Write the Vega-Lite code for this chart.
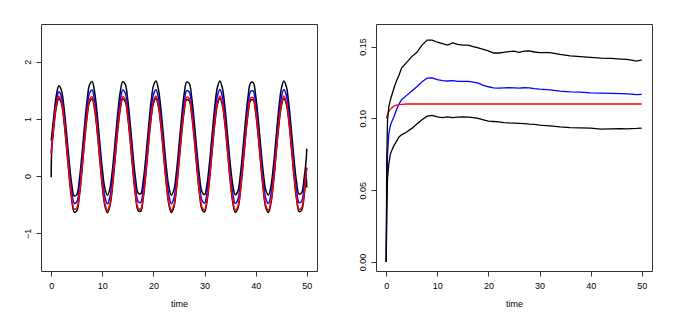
{
"$schema": "https://vega.github.io/schema/vega-lite/v6.json",
"padding": {"left": 22, "top": 23, "right": 5, "bottom": 5},
"background": "white",
"bounds": "flush",
"spacing": 59,
"config": {
 "view": {"stroke": "#333", "strokeWidth": 1},
 "axis": {"domain": false, "grid": false, "ticks": true, "tickColor": "#333", "tickSize": 5, "labelFont": "Liberation Sans", "labelFontSize": 9, "labelColor": "#000", "titleFont": "Liberation Sans", "titleFontSize": 9, "titleFontWeight": "normal", "titleColor": "#000"},
 "axisX": {"labelPadding": 5, "titlePadding": 9, "labelAngle": 0},
 "axisY": {"labelAngle": -90, "labelPadding": 4, "labelAlign": "center", "labelBaseline": "bottom"}
},
"datasets": {
 "a": [
{"t":0,"s":"hi","v":0.62},{"t":0.5,"s":"hi","v":1.039},{"t":1,"s":"hi","v":1.412},{"t":1.5,"s":"hi","v":1.578},{"t":2,"s":"hi","v":1.499},{"t":2.5,"s":"hi","v":1.199},{"t":3,"s":"hi","v":0.751},{"t":3.5,"s":"hi","v":0.269},{"t":4,"s":"hi","v":-0.132},{"t":4.5,"s":"hi","v":-0.348},{"t":5,"s":"hi","v":-0.324},{"t":5.5,"s":"hi","v":-0.066},{"t":6,"s":"hi","v":0.366},{"t":6.5,"s":"hi","v":0.865},{"t":7,"s":"hi","v":1.312},{"t":7.5,"s":"hi","v":1.598},
{"t":8,"s":"hi","v":1.654},{"t":8.5,"s":"hi","v":1.464},{"t":9,"s":"hi","v":1.077},{"t":9.5,"s":"hi","v":0.590},{"t":10,"s":"hi","v":0.121},{"t":10.5,"s":"hi","v":-0.215},{"t":11,"s":"hi","v":-0.335},{"t":11.5,"s":"hi","v":-0.211},{"t":12,"s":"hi","v":0.128},{"t":12.5,"s":"hi","v":0.599},{"t":13,"s":"hi","v":1.085},{"t":13.5,"s":"hi","v":1.469},{"t":14,"s":"hi","v":1.656},{"t":14.5,"s":"hi","v":1.600},{"t":15,"s":"hi","v":1.315},{"t":15.5,"s":"hi","v":0.872},{"t":16,"s":"hi","v":0.377},{"t":16.5,"s":"hi","v":-0.047},{"t":17,"s":"hi","v":-0.296},{"t":17.5,"s":"hi","v":-0.311},{"t":18,"s":"hi","v":-0.086},{"t":18.5,"s":"hi","v":0.323},{"t":19,"s":"hi","v":0.815},{"t":19.5,"s":"hi","v":1.271},{"t":20,"s":"hi","v":1.578},{"t":20.5,"s":"hi","v":1.662},{"t":21,"s":"hi","v":1.502},{"t":21.5,"s":"hi","v":1.137},{"t":22,"s":"hi","v":0.656},{"t":22.5,"s":"hi","v":0.178},{"t":23,"s":"hi","v":-0.181},{"t":23.5,"s":"hi","v":-0.333},{"t":24,"s":"hi","v":-0.241},{"t":24.5,"s":"hi","v":0.074},{"t":25,"s":"hi","v":0.533},{"t":25.5,"s":"hi","v":1.024},{"t":26,"s":"hi","v":1.428},{"t":26.5,"s":"hi","v":1.644},{"t":27,"s":"hi","v":1.621},{"t":27.5,"s":"hi","v":1.364},{"t":28,"s":"hi","v":0.936},{"t":28.5,"s":"hi","v":0.441},{"t":29,"s":"hi","v":0.001},{"t":29.5,"s":"hi","v":-0.276},{"t":30,"s":"hi","v":-0.323},{"t":30.5,"s":"hi","v":-0.128},{"t":31,"s":"hi","v":0.261},{"t":31.5,"s":"hi","v":0.749},{"t":32,"s":"hi","v":1.216},{"t":32.5,"s":"hi","v":1.549},{"t":33,"s":"hi","v":1.665},{"t":33.5,"s":"hi","v":1.536},{"t":34,"s":"hi","v":1.194},{"t":34.5,"s":"hi","v":0.723},{"t":35,"s":"hi","v":0.237},{"t":35.5,"s":"hi","v":-0.144},{"t":36,"s":"hi","v":-0.327},{"t":36.5,"s":"hi","v":-0.267},{"t":37,"s":"hi","v":0.022},{"t":37.5,"s":"hi","v":0.467},{"t":38,"s":"hi","v":0.961},{"t":38.5,"s":"hi","v":1.383},{"t":39,"s":"hi","v":1.629},{"t":39.5,"s":"hi","v":1.639},{"t":40,"s":"hi","v":1.410},{"t":40.5,"s":"hi","v":0.999},{"t":41,"s":"hi","v":0.506},{"t":41.5,"s":"hi","v":0.053},{"t":42,"s":"hi","v":-0.252},{"t":42.5,"s":"hi","v":-0.331},{"t":43,"s":"hi","v":-0.167},{"t":43.5,"s":"hi","v":0.201},{"t":44,"s":"hi","v":0.683},{"t":44.5,"s":"hi","v":1.160},{"t":45,"s":"hi","v":1.516},{"t":45.5,"s":"hi","v":1.664},{"t":46,"s":"hi","v":1.567},{"t":46.5,"s":"hi","v":1.249},{"t":47,"s":"hi","v":0.789},{"t":47.5,"s":"hi","v":0.298},{"t":48,"s":"hi","v":-0.103},{"t":48.5,"s":"hi","v":-0.316},{"t":49,"s":"hi","v":-0.289},{"t":49.5,"s":"hi","v":-0.028},{"t":49.9,"s":"hi","v":0.308},{"t":50,"s":"hi","v":0.48},
{"t":0,"s":"lo","v":-0.02},{"t":0.1,"s":"lo","v":0.46},{"t":0.5,"s":"lo","v":0.849},{"t":1,"s":"lo","v":1.202},{"t":1.5,"s":"lo","v":1.358},{"t":2,"s":"lo","v":1.269},{"t":2.5,"s":"lo","v":0.954},{"t":3,"s":"lo","v":0.491},{"t":3.5,"s":"lo","v":-0.001},{"t":4,"s":"lo","v":-0.407},{"t":4.5,"s":"lo","v":-0.628},{"t":5,"s":"lo","v":-0.609},{"t":5.5,"s":"lo","v":-0.356},{"t":6,"s":"lo","v":0.076},{"t":6.5,"s":"lo","v":0.575},{"t":7,"s":"lo","v":1.017},{"t":7.5,"s":"lo","v":1.298},{"t":8,"s":"lo","v":1.349},{"t":8.5,"s":"lo","v":1.159},{"t":9,"s":"lo","v":0.772},{"t":9.5,"s":"lo","v":0.285},{"t":10,"s":"lo","v":-0.184},{"t":10.5,"s":"lo","v":-0.520},{"t":11,"s":"lo","v":-0.640},{"t":11.5,"s":"lo","v":-0.516},{"t":12,"s":"lo","v":-0.177},{"t":12.5,"s":"lo","v":0.294},{"t":13,"s":"lo","v":0.780},{"t":13.5,"s":"lo","v":1.164},{"t":14,"s":"lo","v":1.351},{"t":14.5,"s":"lo","v":1.295},{"t":15,"s":"lo","v":1.010},{"t":15.5,"s":"lo","v":0.567},{"t":16,"s":"lo","v":0.072},{"t":16.5,"s":"lo","v":-0.352},{"t":17,"s":"lo","v":-0.601},{"t":17.5,"s":"lo","v":-0.616},{"t":18,"s":"lo","v":-0.391},{"t":18.5,"s":"lo","v":0.018},{"t":19,"s":"lo","v":0.510},{"t":19.5,"s":"lo","v":0.966},{"t":20,"s":"lo","v":1.273},{"t":20.5,"s":"lo","v":1.357},{"t":21,"s":"lo","v":1.197},{"t":21.5,"s":"lo","v":0.832},{"t":22,"s":"lo","v":0.351},{"t":22.5,"s":"lo","v":-0.127},{"t":23,"s":"lo","v":-0.486},{"t":23.5,"s":"lo","v":-0.638},{"t":24,"s":"lo","v":-0.546},{"t":24.5,"s":"lo","v":-0.231},{"t":25,"s":"lo","v":0.228},{"t":25.5,"s":"lo","v":0.719},{"t":26,"s":"lo","v":1.123},{"t":26.5,"s":"lo","v":1.339},{"t":27,"s":"lo","v":1.316},{"t":27.5,"s":"lo","v":1.059},{"t":28,"s":"lo","v":0.631},{"t":28.5,"s":"lo","v":0.136},{"t":29,"s":"lo","v":-0.304},{"t":29.5,"s":"lo","v":-0.581},{"t":30,"s":"lo","v":-0.628},{"t":30.5,"s":"lo","v":-0.433},{"t":31,"s":"lo","v":-0.044},{"t":31.5,"s":"lo","v":0.444},{"t":32,"s":"lo","v":0.911},{"t":32.5,"s":"lo","v":1.244},{"t":33,"s":"lo","v":1.360},{"t":33.5,"s":"lo","v":1.231},{"t":34,"s":"lo","v":0.889},{"t":34.5,"s":"lo","v":0.418},{"t":35,"s":"lo","v":-0.068},{"t":35.5,"s":"lo","v":-0.449},{"t":36,"s":"lo","v":-0.632},{"t":36.5,"s":"lo","v":-0.572},{"t":37,"s":"lo","v":-0.284},{"t":37.5,"s":"lo","v":0.162},{"t":38,"s":"lo","v":0.656},{"t":38.5,"s":"lo","v":1.078},{"t":39,"s":"lo","v":1.324},{"t":39.5,"s":"lo","v":1.334},{"t":40,"s":"lo","v":1.105},{"t":40.5,"s":"lo","v":0.694},{"t":41,"s":"lo","v":0.201},{"t":41.5,"s":"lo","v":-0.253},{"t":42,"s":"lo","v":-0.557},{"t":42.5,"s":"lo","v":-0.636},{"t":43,"s":"lo","v":-0.472},{"t":43.5,"s":"lo","v":-0.104},{"t":44,"s":"lo","v":0.378},{"t":44.5,"s":"lo","v":0.855},{"t":45,"s":"lo","v":1.211},{"t":45.5,"s":"lo","v":1.359},{"t":46,"s":"lo","v":1.262},{"t":46.5,"s":"lo","v":0.944},{"t":47,"s":"lo","v":0.484},{"t":47.5,"s":"lo","v":-0.007},{"t":48,"s":"lo","v":-0.408},{"t":48.5,"s":"lo","v":-0.621},{"t":49,"s":"lo","v":-0.594},{"t":49.5,"s":"lo","v":-0.333},{"t":49.9,"s":"lo","v":0.003},{"t":50,"s":"lo","v":-0.20},
{"t":0,"s":"bl","v":0.400},{"t":0.5,"s":"bl","v":0.919},{"t":1,"s":"bl","v":1.302},{"t":1.5,"s":"bl","v":1.473},{"t":2,"s":"bl","v":1.394},{"t":2.5,"s":"bl","v":1.089},{"t":3,"s":"bl","v":0.636},{"t":3.5,"s":"bl","v":0.147},{"t":4,"s":"bl","v":-0.257},{"t":4.5,"s":"bl","v":-0.475},{"t":5,"s":"bl","v":-0.454},{"t":5.5,"s":"bl","v":-0.199},{"t":6,"s":"bl","v":0.231},{"t":6.5,"s":"bl","v":0.727},{"t":7,"s":"bl","v":1.172},{"t":7.5,"s":"bl","v":1.453},{"t":8,"s":"bl","v":1.504},{"t":8.5,"s":"bl","v":1.314},{"t":9,"s":"bl","v":0.927},{"t":9.5,"s":"bl","v":0.440},{"t":10,"s":"bl","v":-0.029},{"t":10.5,"s":"bl","v":-0.365},{"t":11,"s":"bl","v":-0.485},{"t":11.5,"s":"bl","v":-0.361},{"t":12,"s":"bl","v":-0.022},{"t":12.5,"s":"bl","v":0.449},{"t":13,"s":"bl","v":0.935},{"t":13.5,"s":"bl","v":1.319},{"t":14,"s":"bl","v":1.506},{"t":14.5,"s":"bl","v":1.450},{"t":15,"s":"bl","v":1.165},{"t":15.5,"s":"bl","v":0.722},{"t":16,"s":"bl","v":0.227},{"t":16.5,"s":"bl","v":-0.197},{"t":17,"s":"bl","v":-0.446},{"t":17.5,"s":"bl","v":-0.461},{"t":18,"s":"bl","v":-0.236},{"t":18.5,"s":"bl","v":0.173},{"t":19,"s":"bl","v":0.665},{"t":19.5,"s":"bl","v":1.121},{"t":20,"s":"bl","v":1.428},{"t":20.5,"s":"bl","v":1.512},{"t":21,"s":"bl","v":1.352},{"t":21.5,"s":"bl","v":0.987},{"t":22,"s":"bl","v":0.506},{"t":22.5,"s":"bl","v":0.028},{"t":23,"s":"bl","v":-0.331},{"t":23.5,"s":"bl","v":-0.483},{"t":24,"s":"bl","v":-0.391},{"t":24.5,"s":"bl","v":-0.076},{"t":25,"s":"bl","v":0.383},{"t":25.5,"s":"bl","v":0.874},{"t":26,"s":"bl","v":1.278},{"t":26.5,"s":"bl","v":1.494},{"t":27,"s":"bl","v":1.471},{"t":27.5,"s":"bl","v":1.214},{"t":28,"s":"bl","v":0.786},{"t":28.5,"s":"bl","v":0.291},{"t":29,"s":"bl","v":-0.149},{"t":29.5,"s":"bl","v":-0.426},{"t":30,"s":"bl","v":-0.473},{"t":30.5,"s":"bl","v":-0.278},{"t":31,"s":"bl","v":0.111},{"t":31.5,"s":"bl","v":0.599},{"t":32,"s":"bl","v":1.066},{"t":32.5,"s":"bl","v":1.399},{"t":33,"s":"bl","v":1.515},{"t":33.5,"s":"bl","v":1.386},{"t":34,"s":"bl","v":1.044},{"t":34.5,"s":"bl","v":0.573},{"t":35,"s":"bl","v":0.087},{"t":35.5,"s":"bl","v":-0.294},{"t":36,"s":"bl","v":-0.477},{"t":36.5,"s":"bl","v":-0.417},{"t":37,"s":"bl","v":-0.129},{"t":37.5,"s":"bl","v":0.317},{"t":38,"s":"bl","v":0.811},{"t":38.5,"s":"bl","v":1.233},{"t":39,"s":"bl","v":1.479},{"t":39.5,"s":"bl","v":1.489},{"t":40,"s":"bl","v":1.260},{"t":40.5,"s":"bl","v":0.849},{"t":41,"s":"bl","v":0.356},{"t":41.5,"s":"bl","v":-0.098},{"t":42,"s":"bl","v":-0.402},{"t":42.5,"s":"bl","v":-0.481},{"t":43,"s":"bl","v":-0.317},{"t":43.5,"s":"bl","v":0.051},{"t":44,"s":"bl","v":0.533},{"t":44.5,"s":"bl","v":1.010},{"t":45,"s":"bl","v":1.366},{"t":45.5,"s":"bl","v":1.514},{"t":46,"s":"bl","v":1.417},{"t":46.5,"s":"bl","v":1.099},{"t":47,"s":"bl","v":0.639},{"t":47.5,"s":"bl","v":0.148},{"t":48,"s":"bl","v":-0.253},{"t":48.5,"s":"bl","v":-0.466},{"t":49,"s":"bl","v":-0.439},{"t":49.5,"s":"bl","v":-0.178},{"t":50,"s":"bl","v":0.150},
{"t":0,"s":"rd","v":0.400},{"t":0.5,"s":"rd","v":0.879},{"t":1,"s":"rd","v":1.242},{"t":1.5,"s":"rd","v":1.398},{"t":2,"s":"rd","v":1.309},{"t":2.5,"s":"rd","v":0.999},{"t":3,"s":"rd","v":0.541},{"t":3.5,"s":"rd","v":0.049},{"t":4,"s":"rd","v":-0.357},{"t":4.5,"s":"rd","v":-0.578},{"t":5,"s":"rd","v":-0.559},{"t":5.5,"s":"rd","v":-0.306},{"t":6,"s":"rd","v":0.121},{"t":6.5,"s":"rd","v":0.615},{"t":7,"s":"rd","v":1.057},{"t":7.5,"s":"rd","v":1.338},{"t":8,"s":"rd","v":1.389},{"t":8.5,"s":"rd","v":1.199},{"t":9,"s":"rd","v":0.812},{"t":9.5,"s":"rd","v":0.325},{"t":10,"s":"rd","v":-0.144},{"t":10.5,"s":"rd","v":-0.480},{"t":11,"s":"rd","v":-0.600},{"t":11.5,"s":"rd","v":-0.476},{"t":12,"s":"rd","v":-0.137},{"t":12.5,"s":"rd","v":0.334},{"t":13,"s":"rd","v":0.820},{"t":13.5,"s":"rd","v":1.204},{"t":14,"s":"rd","v":1.391},{"t":14.5,"s":"rd","v":1.335},{"t":15,"s":"rd","v":1.050},{"t":15.5,"s":"rd","v":0.607},{"t":16,"s":"rd","v":0.112},{"t":16.5,"s":"rd","v":-0.312},{"t":17,"s":"rd","v":-0.561},{"t":17.5,"s":"rd","v":-0.576},{"t":18,"s":"rd","v":-0.351},{"t":18.5,"s":"rd","v":0.058},{"t":19,"s":"rd","v":0.550},{"t":19.5,"s":"rd","v":1.006},{"t":20,"s":"rd","v":1.313},{"t":20.5,"s":"rd","v":1.397},{"t":21,"s":"rd","v":1.237},{"t":21.5,"s":"rd","v":0.872},{"t":22,"s":"rd","v":0.391},{"t":22.5,"s":"rd","v":-0.087},{"t":23,"s":"rd","v":-0.446},{"t":23.5,"s":"rd","v":-0.598},{"t":24,"s":"rd","v":-0.506},{"t":24.5,"s":"rd","v":-0.191},{"t":25,"s":"rd","v":0.268},{"t":25.5,"s":"rd","v":0.759},{"t":26,"s":"rd","v":1.163},{"t":26.5,"s":"rd","v":1.379},{"t":27,"s":"rd","v":1.356},{"t":27.5,"s":"rd","v":1.099},{"t":28,"s":"rd","v":0.671},{"t":28.5,"s":"rd","v":0.176},{"t":29,"s":"rd","v":-0.264},{"t":29.5,"s":"rd","v":-0.541},{"t":30,"s":"rd","v":-0.588},{"t":30.5,"s":"rd","v":-0.393},{"t":31,"s":"rd","v":-0.004},{"t":31.5,"s":"rd","v":0.484},{"t":32,"s":"rd","v":0.951},{"t":32.5,"s":"rd","v":1.284},{"t":33,"s":"rd","v":1.400},{"t":33.5,"s":"rd","v":1.271},{"t":34,"s":"rd","v":0.929},{"t":34.5,"s":"rd","v":0.458},{"t":35,"s":"rd","v":-0.028},{"t":35.5,"s":"rd","v":-0.409},{"t":36,"s":"rd","v":-0.592},{"t":36.5,"s":"rd","v":-0.532},{"t":37,"s":"rd","v":-0.244},{"t":37.5,"s":"rd","v":0.202},{"t":38,"s":"rd","v":0.696},{"t":38.5,"s":"rd","v":1.118},{"t":39,"s":"rd","v":1.364},{"t":39.5,"s":"rd","v":1.374},{"t":40,"s":"rd","v":1.145},{"t":40.5,"s":"rd","v":0.734},{"t":41,"s":"rd","v":0.241},{"t":41.5,"s":"rd","v":-0.213},{"t":42,"s":"rd","v":-0.517},{"t":42.5,"s":"rd","v":-0.596},{"t":43,"s":"rd","v":-0.432},{"t":43.5,"s":"rd","v":-0.064},{"t":44,"s":"rd","v":0.418},{"t":44.5,"s":"rd","v":0.895},{"t":45,"s":"rd","v":1.251},{"t":45.5,"s":"rd","v":1.399},{"t":46,"s":"rd","v":1.302},{"t":46.5,"s":"rd","v":0.984},{"t":47,"s":"rd","v":0.524},{"t":47.5,"s":"rd","v":0.033},{"t":48,"s":"rd","v":-0.368},{"t":48.5,"s":"rd","v":-0.581},{"t":49,"s":"rd","v":-0.554},{"t":49.5,"s":"rd","v":-0.293},{"t":50,"s":"rd","v":0.138}
 ],
 "b": [
{"t":0,"s":"bl","v":0},{"t":0.1,"s":"bl","v":0.045},{"t":0.25,"s":"bl","v":0.075},{"t":0.5,"s":"bl","v":0.089},{"t":0.75,"s":"bl","v":0.094},{"t":1,"s":"bl","v":0.097},{"t":1.5,"s":"bl","v":0.101},{"t":2,"s":"bl","v":0.106},{"t":2.5,"s":"bl","v":0.110},{"t":3,"s":"bl","v":0.113},{"t":4,"s":"bl","v":0.116},{"t":5,"s":"bl","v":0.119},{"t":6,"s":"bl","v":0.122},{"t":7,"s":"bl","v":0.1255},{"t":8,"s":"bl","v":0.128},{"t":9,"s":"bl","v":0.1282},{"t":10,"s":"bl","v":0.127},{"t":11,"s":"bl","v":0.1262},{"t":12,"s":"bl","v":0.126},{"t":13,"s":"bl","v":0.1262},{"t":14,"s":"bl","v":0.1258},{"t":15,"s":"bl","v":0.1258},{"t":16,"s":"bl","v":0.1258},{"t":17,"s":"bl","v":0.1252},{"t":18,"s":"bl","v":0.1245},{"t":19,"s":"bl","v":0.123},{"t":20,"s":"bl","v":0.122},{"t":21,"s":"bl","v":0.1212},{"t":22,"s":"bl","v":0.121},{"t":23,"s":"bl","v":0.1212},{"t":24,"s":"bl","v":0.1213},{"t":25,"s":"bl","v":0.1212},{"t":26,"s":"bl","v":0.121},{"t":27,"s":"bl","v":0.1213},{"t":28,"s":"bl","v":0.1212},{"t":29,"s":"bl","v":0.1207},{"t":30,"s":"bl","v":0.1203},{"t":32,"s":"bl","v":0.1198},{"t":34,"s":"bl","v":0.119},{"t":36,"s":"bl","v":0.1185},{"t":38,"s":"bl","v":0.1182},{"t":40,"s":"bl","v":0.1178},{"t":42,"s":"bl","v":0.1176},{"t":44,"s":"bl","v":0.1174},{"t":46,"s":"bl","v":0.1172},{"t":47,"s":"bl","v":0.1171},{"t":48,"s":"bl","v":0.1168},{"t":49,"s":"bl","v":0.1165},{"t":50,"s":"bl","v":0.1167},
{"t":0,"s":"rd","v":0.100},{"t":0.25,"s":"rd","v":0.1027},{"t":0.5,"s":"rd","v":0.1046},{"t":0.75,"s":"rd","v":0.1061},{"t":1,"s":"rd","v":0.1071},{"t":1.5,"s":"rd","v":0.1085},{"t":2,"s":"rd","v":0.1092},{"t":2.5,"s":"rd","v":0.1096},{"t":3,"s":"rd","v":0.1098},{"t":4,"s":"rd","v":0.11},{"t":10,"s":"rd","v":0.11},{"t":20,"s":"rd","v":0.11},{"t":30,"s":"rd","v":0.11},{"t":40,"s":"rd","v":0.11},{"t":50,"s":"rd","v":0.11},
{"t":0,"s":"hi","v":0},{"t":0.1,"s":"hi","v":0.07},{"t":0.25,"s":"hi","v":0.098},{"t":0.5,"s":"hi","v":0.108},{"t":0.75,"s":"hi","v":0.112},{"t":1,"s":"hi","v":0.115},{"t":1.5,"s":"hi","v":0.121},{"t":2,"s":"hi","v":0.126},{"t":2.5,"s":"hi","v":0.130},{"t":3,"s":"hi","v":0.135},{"t":4,"s":"hi","v":0.139},{"t":5,"s":"hi","v":0.143},{"t":6,"s":"hi","v":0.146},{"t":7,"s":"hi","v":0.151},{"t":8,"s":"hi","v":0.1545},{"t":9,"s":"hi","v":0.1545},{"t":10,"s":"hi","v":0.153},{"t":11,"s":"hi","v":0.152},{"t":12,"s":"hi","v":0.151},{"t":13,"s":"hi","v":0.1525},{"t":14,"s":"hi","v":0.1515},{"t":15,"s":"hi","v":0.151},{"t":16,"s":"hi","v":0.151},{"t":17,"s":"hi","v":0.150},{"t":18,"s":"hi","v":0.149},{"t":19,"s":"hi","v":0.148},{"t":20,"s":"hi","v":0.147},{"t":21,"s":"hi","v":0.1455},{"t":22,"s":"hi","v":0.1455},{"t":23,"s":"hi","v":0.146},{"t":24,"s":"hi","v":0.1465},{"t":25,"s":"hi","v":0.1468},{"t":26,"s":"hi","v":0.146},{"t":27,"s":"hi","v":0.1468},{"t":28,"s":"hi","v":0.147},{"t":29,"s":"hi","v":0.1462},{"t":30,"s":"hi","v":0.1458},{"t":32,"s":"hi","v":0.1458},{"t":34,"s":"hi","v":0.1445},{"t":36,"s":"hi","v":0.1435},{"t":38,"s":"hi","v":0.143},{"t":40,"s":"hi","v":0.1425},{"t":42,"s":"hi","v":0.142},{"t":44,"s":"hi","v":0.1418},{"t":46,"s":"hi","v":0.1413},{"t":47,"s":"hi","v":0.141},{"t":48,"s":"hi","v":0.1405},{"t":49,"s":"hi","v":0.1398},{"t":50,"s":"hi","v":0.1407},
{"t":0,"s":"lo","v":0},{"t":0.1,"s":"lo","v":0.035},{"t":0.25,"s":"lo","v":0.058},{"t":0.5,"s":"lo","v":0.068},{"t":0.75,"s":"lo","v":0.074},{"t":1,"s":"lo","v":0.077},{"t":1.5,"s":"lo","v":0.081},{"t":2,"s":"lo","v":0.084},{"t":2.5,"s":"lo","v":0.087},{"t":3,"s":"lo","v":0.0885},{"t":4,"s":"lo","v":0.0905},{"t":5,"s":"lo","v":0.093},{"t":6,"s":"lo","v":0.096},{"t":7,"s":"lo","v":0.099},{"t":8,"s":"lo","v":0.1015},{"t":9,"s":"lo","v":0.102},{"t":10,"s":"lo","v":0.101},{"t":11,"s":"lo","v":0.1005},{"t":12,"s":"lo","v":0.101},{"t":13,"s":"lo","v":0.1005},{"t":14,"s":"lo","v":0.1008},{"t":15,"s":"lo","v":0.101},{"t":16,"s":"lo","v":0.1008},{"t":17,"s":"lo","v":0.1005},{"t":18,"s":"lo","v":0.1},{"t":19,"s":"lo","v":0.099},{"t":20,"s":"lo","v":0.098},{"t":21,"s":"lo","v":0.0978},{"t":22,"s":"lo","v":0.0975},{"t":23,"s":"lo","v":0.097},{"t":24,"s":"lo","v":0.0968},{"t":25,"s":"lo","v":0.0967},{"t":26,"s":"lo","v":0.0965},{"t":27,"s":"lo","v":0.0963},{"t":28,"s":"lo","v":0.096},{"t":29,"s":"lo","v":0.0958},{"t":30,"s":"lo","v":0.0953},{"t":32,"s":"lo","v":0.0948},{"t":34,"s":"lo","v":0.094},{"t":36,"s":"lo","v":0.0935},{"t":38,"s":"lo","v":0.0933},{"t":40,"s":"lo","v":0.0932},{"t":42,"s":"lo","v":0.0925},{"t":44,"s":"lo","v":0.0926},{"t":46,"s":"lo","v":0.0928},{"t":47,"s":"lo","v":0.0927},{"t":48,"s":"lo","v":0.0929},{"t":49,"s":"lo","v":0.093},{"t":50,"s":"lo","v":0.0932}
 ]
},
"hconcat": [
 {
  "width": 276, "height": 247,
  "data": {"name": "a"},
  "mark": {"type": "line", "interpolate": "catmull-rom", "strokeWidth": 1.5, "clip": true},
  "encoding": {
   "x": {"field": "t", "type": "quantitative", "scale": {"domain": [-2, 52], "nice": false, "zero": false}, "axis": {"values": [0, 10, 20, 30, 40, 50], "title": "time"}},
   "y": {"field": "v", "type": "quantitative", "scale": {"domain": [-1.66, 2.66], "nice": false, "zero": false}, "axis": {"values": [-1, 0, 1, 2], "title": null}},
   "color": {"field": "s", "type": "nominal", "scale": {"domain": ["hi", "lo", "bl", "rd"], "range": ["#000000", "#000000", "#0000ff", "#ff0000"]}, "legend": null}
  }
 },
 {
  "width": 276, "height": 247,
  "data": {"name": "b"},
  "mark": {"type": "line", "interpolate": "linear", "strokeWidth": 1.3, "clip": true},
  "encoding": {
   "x": {"field": "t", "type": "quantitative", "scale": {"domain": [-2, 52], "nice": false, "zero": false}, "axis": {"values": [0, 10, 20, 30, 40, 50], "title": "time"}},
   "y": {"field": "v", "type": "quantitative", "scale": {"domain": [-0.0063, 0.1657], "nice": false, "zero": false}, "axis": {"values": [0, 0.05, 0.1, 0.15], "format": ".2f", "title": null}},
   "color": {"field": "s", "type": "nominal", "scale": {"domain": ["hi", "lo", "bl", "rd"], "range": ["#000000", "#000000", "#0000ff", "#ff0000"]}, "legend": null}
  }
 }
]
}
